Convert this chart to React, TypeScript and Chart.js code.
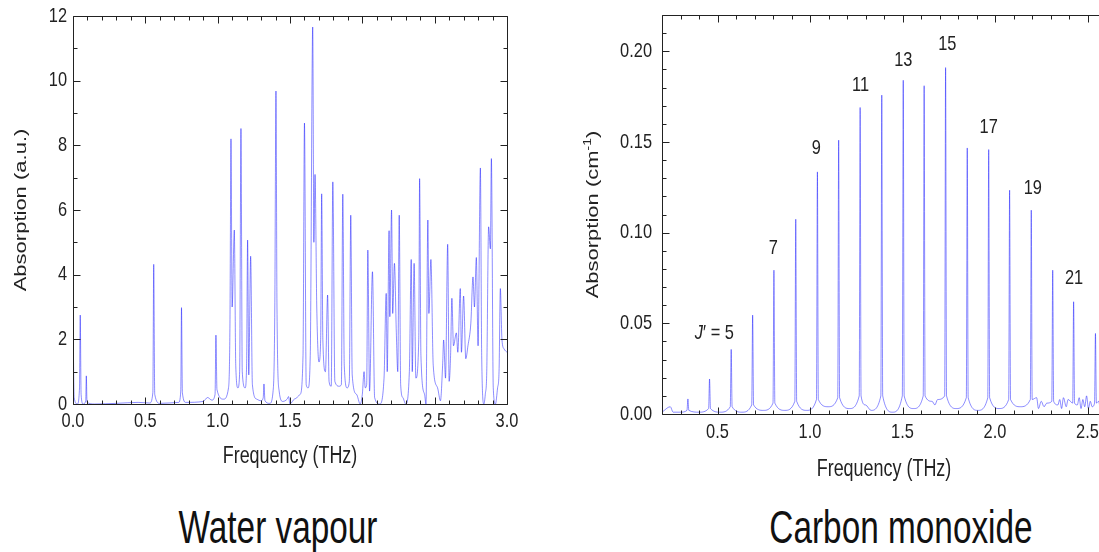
import React, { useEffect, useRef } from "react";
import { Chart, registerables } from "chart.js";
Chart.register(...registerables);

const FONT = "'Liberation Sans', Arial, sans-serif";
const INK = "#222";
const LINE = "rgba(0,0,255,0.45)";
const SX = 0.78; // horizontal squeeze of all lettering

// ---------- Water vapour spectrum (valleys and peaks) ----------
const waterFreq = [
  0.000, 0.008, 0.030, 0.045, 0.050, 0.056, 0.070, 0.088, 0.092, 0.097,
  0.150, 0.300, 0.450, 0.530, 0.552, 0.558, 0.565, 0.600, 0.730, 0.745,
  0.750, 0.756, 0.780, 0.900, 0.930, 0.960, 0.982, 0.988, 0.995, 1.040,
  1.075, 1.085, 1.092, 1.100, 1.115, 1.125, 1.140, 1.152, 1.161, 1.170,
  1.190, 1.200, 1.207, 1.215, 1.228, 1.240, 1.270, 1.300, 1.315, 1.320,
  1.327, 1.360, 1.385, 1.395, 1.403, 1.410, 1.425, 1.450, 1.480, 1.490,
  1.500, 1.530, 1.570, 1.590, 1.600, 1.612, 1.625, 1.640, 1.657, 1.665,
  1.673, 1.685, 1.700, 1.712, 1.719, 1.727, 1.745, 1.760, 1.770, 1.785,
  1.796, 1.810, 1.840, 1.855, 1.865, 1.875, 1.895, 1.910, 1.920, 1.930,
  1.960, 1.985, 2.000, 2.012, 2.020, 2.030, 2.038, 2.050, 2.070, 2.085,
  2.120, 2.150, 2.165, 2.172, 2.185, 2.190, 2.202, 2.210, 2.222, 2.235,
  2.245, 2.255, 2.265, 2.280, 2.300, 2.325, 2.338, 2.345, 2.358, 2.370,
  2.390, 2.396, 2.405, 2.430, 2.440, 2.453, 2.460, 2.474, 2.490, 2.520,
  2.540, 2.555, 2.562, 2.575, 2.590, 2.600, 2.610, 2.619, 2.630, 2.650,
  2.660, 2.677, 2.685, 2.700, 2.715, 2.730, 2.750, 2.765, 2.775, 2.788,
  2.800, 2.816, 2.825, 2.840, 2.850, 2.860, 2.873, 2.885, 2.892, 2.905,
  2.920, 2.935, 2.945, 2.954, 2.965, 2.980, 3.000,
];
const waterAbs = [
  2.80, 0.20, 0.00, 0.50, 2.75, 0.30, 0.00, 0.10, 0.87, 0.05,
  0.00, 0.02, 0.05, 0.03, 0.35, 4.32, 0.30, 0.02, 0.05, 0.40,
  2.98, 0.35, 0.05, 0.08, 0.20, 0.12, 0.30, 2.13, 0.45, 0.15,
  0.50, 2.50, 8.20, 3.00, 5.38, 1.20, 0.50, 1.00, 8.52, 1.00,
  0.50, 1.20, 5.07, 0.90, 4.57, 0.60, 0.15, 0.10, 0.20, 0.62,
  0.10, 0.02, 0.50, 3.00, 9.68, 3.00, 0.40, 0.08, 0.15, 0.23,
  0.00, 0.15, 0.30, 1.50, 8.69, 0.60, 0.50, 1.50, 11.66, 5.00,
  7.10, 3.00, 1.30, 2.00, 6.50, 2.00, 1.00, 3.37, 0.70, 0.55,
  6.87, 0.70, 0.55, 0.60, 6.49, 1.20, 0.50, 0.70, 5.84, 0.90,
  0.30, 0.00, 0.30, 1.00, 0.50, 0.60, 4.76, 0.40, 4.09, 0.20,
  0.00, 0.80, 3.42, 1.00, 5.36, 2.70, 6.00, 2.80, 4.35, 2.20,
  1.00, 5.84, 0.60, 0.20, 0.00, 1.00, 4.47, 1.00, 4.35, 0.80,
  2.00, 6.97, 1.50, 0.30, 0.00, 5.69, 2.80, 4.47, 1.20, 0.50,
  0.10, 1.20, 1.98, 0.80, 4.94, 0.70, 1.50, 3.27, 1.80, 2.20,
  1.60, 3.57, 1.60, 3.34, 1.40, 1.80, 2.50, 3.93, 3.00, 4.53,
  1.80, 7.30, 1.50, 0.00, 0.30, 1.00, 5.48, 4.80, 7.59, 0.50,
  0.00, 0.50, 1.00, 3.57, 2.00, 1.70, 1.60,
];
const waterXTicks = [0, 0.5, 1.0, 1.5, 2.0, 2.5, 3.0];
const waterYTicks = [0, 2, 4, 6, 8, 10, 12];

// ---------- Carbon monoxide spectrum ----------
const coPeakFreq = [
  0.340, 0.457, 0.574, 0.690, 0.805, 0.923, 1.040, 1.155, 1.271, 1.388,
  1.504, 1.617, 1.733, 1.850, 1.966, 2.079, 2.196, 2.312, 2.425, 2.543,
];
const coPeakAbs = [
  0.0083, 0.0193, 0.0356, 0.0545, 0.0793, 0.1074, 0.1335, 0.151, 0.169, 0.1758,
  0.184, 0.181, 0.191, 0.1467, 0.1458, 0.1234, 0.1124, 0.0793, 0.0619, 0.0444,
];
const coWingAbs = [
  0.002, 0.003, 0.004, 0.005, 0.006, 0.007, 0.008, 0.009, 0.010, 0.010,
  0.010, 0.010, 0.010, 0.009, 0.009, 0.008, 0.008, 0.007, 0.006, 0.006,
];
const coBaseFreq = [
  0.200, 0.245, 0.260, 0.300, 0.400, 0.515, 0.632, 0.748, 0.864, 0.982,
  1.098, 1.213, 1.300, 1.330, 1.446, 1.560, 1.660, 1.675, 1.690, 1.791,
  1.908, 2.022, 2.137, 2.225, 2.235, 2.250, 2.265, 2.280, 2.340, 2.350,
  2.360, 2.370, 2.385, 2.395, 2.445, 2.455, 2.465, 2.475, 2.485, 2.495,
  2.505, 2.515, 2.525, 2.560, 2.570, 2.580, 2.590, 2.600,
];
const coBaseAbs = [
  0.001, 0.004, 0.001, 0.001, 0.001, 0.001, 0.001, 0.002, 0.002, 0.002,
  0.004, 0.003, 0.005, 0.002, 0.001, 0.003, 0.007, 0.005, 0.008, 0.003,
  0.002, 0.003, 0.004, 0.009, 0.003, 0.007, 0.004, 0.006, 0.005, 0.008,
  0.003, 0.009, 0.004, 0.008, 0.005, 0.009, 0.003, 0.008, 0.004, 0.010,
  0.003, 0.007, 0.004, 0.007, 0.003, 0.009, 0.004, 0.008,
];
const coXTicks = [0.5, 1.0, 1.5, 2.0, 2.5];
const coYTicks = [0, 0.05, 0.1, 0.15, 0.2];
const coLabelText = ["J′ = 5", "7", "9", "11", "13", "15", "17", "19", "21"];
const coLabelX = [0.483, 0.802, 1.034, 1.273, 1.504, 1.742, 1.966, 2.204, 2.427];
const coLabelY = [0.0445, 0.0915, 0.1464, 0.1813, 0.195, 0.2037, 0.1583, 0.1243, 0.0748];

function buildWater() {
  return waterFreq.map((f, i) => ({ x: f, y: waterAbs[i] }));
}
function buildCO() {
  const pts: { x: number; y: number }[] = [];
  coBaseFreq.forEach((f, i) => pts.push({ x: f, y: coBaseAbs[i] }));
  coPeakFreq.forEach((f, i) => {
    pts.push({ x: f - 0.005, y: coWingAbs[i] });
    pts.push({ x: f, y: coPeakAbs[i] });
    pts.push({ x: f + 0.005, y: coWingAbs[i] });
  });
  pts.sort((a, b) => a.x - b.x);
  return pts;
}

type Seg = { t: string; size: number; dy?: number; italic?: boolean };

// draw a run of text segments with a horizontal squeeze; rot = rotate -90deg
function drawRun(ctx: CanvasRenderingContext2D, segs: Seg[], x: number, y: number, align: "left" | "center" | "right", rot = false) {
  ctx.save();
  ctx.translate(x, y);
  ctx.scale(SX, 1);
  if (rot) ctx.rotate(-Math.PI / 2);
  ctx.textBaseline = "middle";
  ctx.textAlign = "left";
  let total = 0;
  const widths = segs.map((s) => {
    ctx.font = `${s.italic ? "italic " : ""}${s.size}px ${FONT}`;
    const w = ctx.measureText(s.t).width;
    total += w;
    return w;
  });
  let cx = align === "left" ? 0 : align === "center" ? -total / 2 : -total;
  segs.forEach((s, i) => {
    ctx.font = `${s.italic ? "italic " : ""}${s.size}px ${FONT}`;
    ctx.fillText(s.t, cx, s.dy || 0);
    cx += widths[i];
  });
  ctx.restore();
}

function framePlugin(xMinor: number, xMajor: number, yMinor: number, yMajor: number) {
  return {
    id: "frameTicks",
    afterDatasetsDraw(chart: any) {
      const { ctx, chartArea: a, scales } = chart;
      const xs = scales.x, ys = scales.y;
      ctx.save();
      ctx.strokeStyle = INK;
      ctx.lineWidth = 1;
      const L = Math.round(a.left) + 0.5, R = Math.round(a.right) + 0.5;
      const T = Math.round(a.top) + 0.5, B = Math.round(a.bottom) + 0.5;
      ctx.beginPath();
      ctx.moveTo(L, T); ctx.lineTo(R, T); ctx.lineTo(R, B); ctx.lineTo(L, B); ctx.closePath();
      const n1 = Math.round((xs.max - xs.min) / xMinor);
      for (let k = 0; k <= n1; k++) {
        const v = xs.min + k * xMinor;
        const major = Math.abs(v / xMajor - Math.round(v / xMajor)) < 1e-6;
        const len = major ? 7 : 4;
        const p = Math.round(xs.getPixelForValue(v)) + 0.5;
        ctx.moveTo(p, T); ctx.lineTo(p, T + len);
        ctx.moveTo(p, B); ctx.lineTo(p, B - len);
      }
      const n2 = Math.round((ys.max - ys.min) / yMinor);
      for (let k = 0; k <= n2; k++) {
        const v = ys.min + k * yMinor;
        const major = Math.abs(v / yMajor - Math.round(v / yMajor)) < 1e-6;
        const len = major ? 7 : 4;
        const p = Math.round(ys.getPixelForValue(v)) + 0.5;
        ctx.moveTo(L, p); ctx.lineTo(L + len, p);
        ctx.moveTo(R, p); ctx.lineTo(R - len, p);
      }
      ctx.stroke();
      ctx.restore();
    },
  };
}

function axisTextPlugin(cfg: any) {
  return {
    id: "axisText",
    afterDraw(chart: any) {
      const { ctx, chartArea: a, scales } = chart;
      ctx.save();
      ctx.fillStyle = INK;
      cfg.xTicks.forEach((v: number) => {
        drawRun(ctx, [{ t: v.toFixed(1), size: 21 }], scales.x.getPixelForValue(v), cfg.xLabelY, "center");
      });
      cfg.yTicks.forEach((v: number) => {
        drawRun(ctx, [{ t: cfg.yFmt(v), size: 21 }], cfg.yLabelRight, scales.y.getPixelForValue(v), "right");
      });
      drawRun(ctx, [{ t: "Frequency (THz)", size: 23 }], (a.left + a.right) / 2, cfg.xTitleY, "center");
      drawRun(ctx, cfg.yTitle, cfg.yTitleX, (a.top + a.bottom) / 2, "center", true);
      ctx.restore();
    },
  };
}

const coLabelPlugin = {
  id: "coLabels",
  afterDatasetsDraw(chart: any) {
    const { ctx, scales } = chart;
    ctx.save();
    ctx.fillStyle = INK;
    coLabelText.forEach((t, i) => {
      const px = scales.x.getPixelForValue(coLabelX[i]);
      const py = scales.y.getPixelForValue(coLabelY[i]);
      const segs: Seg[] = t.startsWith("J")
        ? [{ t: "J", size: 21, italic: true }, { t: t.slice(1), size: 21 }]
        : [{ t, size: 21 }];
      drawRun(ctx, segs, px, py, "center");
    });
    ctx.restore();
  },
};

function makeOptions(cfg: any) {
  const hidden = { display: false };
  return {
    responsive: false,
    animation: false,
    events: [],
    layout: { padding: cfg.padding },
    plugins: { legend: hidden, tooltip: { enabled: false } },
    scales: {
      x: {
        type: "linear",
        min: cfg.xMin,
        max: cfg.xMax,
        grid: { display: false, drawTicks: false },
        border: { display: false },
        afterFit: (s: any) => { s.height = cfg.xHeight; },
        ticks: { display: false },
        title: { display: false },
      },
      y: {
        type: "linear",
        min: cfg.yMin,
        max: cfg.yMax,
        grid: { display: false, drawTicks: false },
        border: { display: false },
        afterFit: (s: any) => { s.width = cfg.yWidth; },
        ticks: { display: false },
        title: { display: false },
      },
    },
  };
}

function SpectrumChart(props: { kind: "water" | "co"; width: number; height: number }) {
  const ref = useRef<HTMLCanvasElement | null>(null);
  useEffect(() => {
    if (!ref.current) return;
    let chart: Chart;
    if (props.kind === "water") {
      chart = new Chart(ref.current, {
        type: "line",
        data: {
          datasets: [{
            data: buildWater(),
            borderColor: LINE,
            borderWidth: 1,
            pointRadius: 0,
            cubicInterpolationMode: "monotone",
          }],
        },
        options: makeOptions({
          padding: { top: 16, right: 23, left: 0, bottom: 0 },
          xMin: 0, xMax: 3, yMin: 0, yMax: 12,
          xHeight: 76, yWidth: 73,
        }) as any,
        plugins: [
          framePlugin(0.1, 0.5, 1, 2),
          axisTextPlugin({
            xTicks: waterXTicks, yTicks: waterYTicks,
            yFmt: (v: number) => String(v),
            xLabelY: 421, yLabelRight: 67, xTitleY: 457, yTitleX: 21,
            yTitle: [{ t: "Absorption (a.u.)", size: 22 }],
          }),
        ],
      });
    } else {
      chart = new Chart(ref.current, {
        type: "line",
        data: {
          datasets: [{
            data: buildCO(),
            borderColor: LINE,
            borderWidth: 1,
            pointRadius: 0,
            cubicInterpolationMode: "monotone",
          }],
        },
        options: makeOptions({
          padding: { top: 15, right: 24, left: 0, bottom: 0 },
          xMin: 0.2, xMax: 2.6, yMin: 0, yMax: 0.22,
          xHeight: 86, yWidth: 102,
        }) as any,
        plugins: [
          framePlugin(0.1, 0.5, 0.01, 0.05),
          coLabelPlugin,
          axisTextPlugin({
            xTicks: coXTicks, yTicks: coYTicks,
            yFmt: (v: number) => v.toFixed(2),
            xLabelY: 432, yLabelRight: 92, xTitleY: 470, yTitleX: 33,
            yTitle: [
              { t: "Absorption (cm", size: 22 },
              { t: "-1", size: 14, dy: -7 },
              { t: ")", size: 22 },
            ],
          }),
        ],
      });
    }
    return () => chart.destroy();
  }, [props.kind]);
  return <canvas ref={ref} width={props.width} height={props.height} style={{ display: "block" }} />;
}

const titleStyle: React.CSSProperties = {
  position: "absolute",
  top: 504,
  width: 400,
  textAlign: "center",
  fontFamily: FONT,
  fontSize: 46,
  lineHeight: "46px",
  color: "#111",
  transform: "scaleX(0.725)",
  transformOrigin: "center top",
  whiteSpace: "nowrap",
};

export default function App() {
  return (
    <div style={{ position: "fixed", left: 0, top: 0, width: 1099, height: 552, overflow: "hidden", background: "#fff" }}>
      <div style={{ position: "absolute", left: 0, top: 0 }}>
        <SpectrumChart kind="water" width={530} height={480} />
      </div>
      <div style={{ position: "absolute", left: 560, top: 0 }}>
        <SpectrumChart kind="co" width={570} height={500} />
      </div>
      <div style={{ ...titleStyle, left: 78 }}>Water vapour</div>
      <div style={{ ...titleStyle, left: 701 }}>Carbon monoxide</div>
    </div>
  );
}
